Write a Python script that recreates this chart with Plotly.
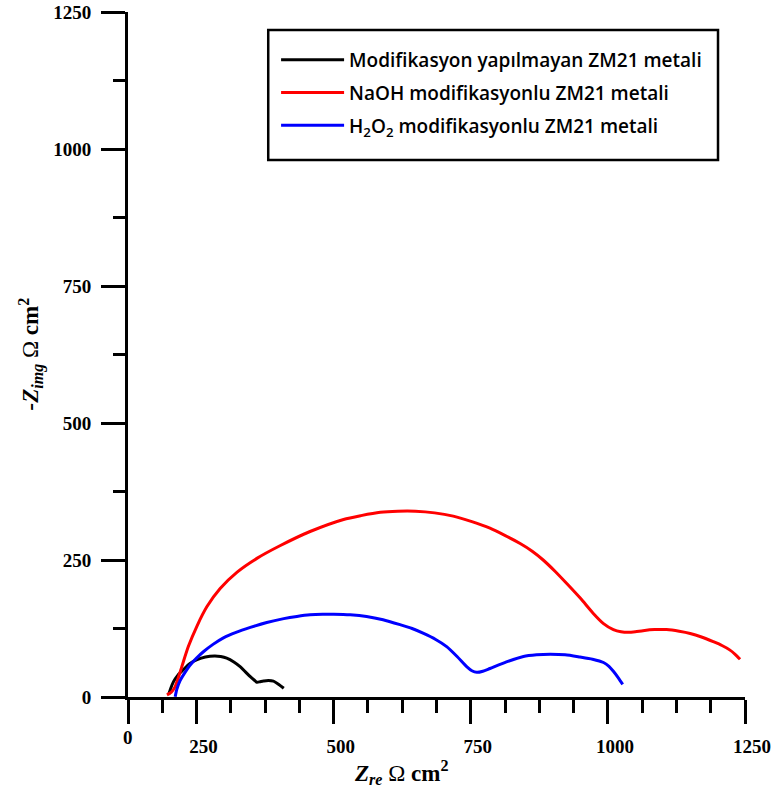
import plotly.graph_objects as go

# Series
black_x = [199, 203, 208, 216, 226, 238, 251, 266, 283, 294, 305, 318, 330, 340, 348, 355, 360, 366, 372, 381, 390, 400, 409]
black_y = [4, 16, 28, 40, 50, 61, 68, 73, 75, 74, 71, 64, 55, 45, 37, 31, 27, 28, 29, 30, 29, 23, 16]

red_x = [196, 204, 211, 217, 223, 235, 251, 269, 293, 324, 360, 402, 457,
         518, 550, 585, 617, 649, 684, 718, 752, 785, 812, 840, 862, 882, 904, 925, 950,
         973, 992, 1010, 1024, 1037, 1050, 1064, 1085, 1107, 1130, 1150, 1172, 1192, 1208, 1222, 1232, 1241]
red_y = [4, 9, 19, 36, 55, 92, 130, 165, 198, 228, 253, 276, 302,
         324, 331, 337, 339, 339, 336, 330, 320, 308, 295, 280, 266, 250, 229, 207, 180,
         153, 134, 123, 119, 118, 119, 121, 123, 123, 120, 116, 109, 101, 94, 86, 78, 69]

blue_x = [211, 214, 220, 229, 238, 250, 263, 280, 299, 322, 348, 378, 409, 433, 457, 480, 500, 530, 560,
          590, 621, 643, 664, 686, 706, 725, 743, 752, 761, 772, 785, 815, 846, 870, 895,
          922, 949, 972, 992, 1002, 1010, 1019, 1027]
blue_y = [0.5, 14, 30, 45, 58, 71, 83, 96, 108, 118, 127, 136, 143, 147, 150, 151, 151, 150, 147,
          141, 132, 125, 116, 105, 92, 74, 55, 48, 45, 47, 52, 64, 74, 77, 78,
          77, 73, 69, 63, 56, 47, 35, 23]

names = ["Modifikasyon yapılmayan ZM21 metali",
         "NaOH modifikasyonlu ZM21 metali",
         "H<sub>2</sub>O<sub>2</sub> modifikasyonlu ZM21 metali"]
colors = ["#000000", "#ff0000", "#0000ff"]

x_major = [125, 250, 500, 750, 1000, 1250]
x_major_text = ["", "250", "500", "750", "1000", "1250"]
x_minor = [187.5, 312.5, 375, 437.5, 562.5, 625, 687.5, 812.5, 875, 937.5, 1062.5, 1125, 1187.5]
y_major = [0, 250, 500, 750, 1000, 1250]
y_minor = [125, 375, 625, 875, 1125]

fig = go.Figure()
for i, (xs, ys) in enumerate([(black_x, black_y), (red_x, red_y), (blue_x, blue_y)]):
    fig.add_trace(go.Scatter(x=xs, y=ys, mode="lines", name=names[i], legendgroup=str(i),
                             line=dict(color=colors[i], width=3, shape="spline", smoothing=0.7)))

serif = "Liberation Serif"
fig.update_layout(
    width=778, height=794,
    margin=dict(l=128, r=33, t=12, b=97, autoexpand=False),
    plot_bgcolor="white", paper_bgcolor="white",
    showlegend=True,
    legend=dict(x=0.240, y=0.9577, xanchor="left", yanchor="top",
                borderwidth=0, bgcolor="rgba(0,0,0,0)",
                font=dict(family="Open Sans", size=19, color="black", weight=600),
                tracegroupgap=5, itemwidth=63),
    xaxis=dict(range=[125, 1250], showgrid=False, zeroline=False, automargin=False,
               showline=True, linecolor="black", linewidth=3,
               tickvals=x_major, ticktext=x_major_text, ticks="outside",
               ticklen=24, tickwidth=3, tickcolor="black",
               ticklabelstandoff=6, ticklabelshift=7,
               tickfont=dict(family=serif, size=19, color="black", weight="bold"),
               minor=dict(tickvals=x_minor, ticks="outside", ticklen=13, tickwidth=3,
                          tickcolor="black", showgrid=False)),
    yaxis=dict(range=[0, 1250], showgrid=False, zeroline=False, automargin=False,
               showline=True, linecolor="black", linewidth=3,
               tickvals=y_major, ticks="outside",
               ticklen=24, tickwidth=3, tickcolor="black",
               ticklabelstandoff=6,
               tickfont=dict(family=serif, size=19, color="black", weight="bold"),
               minor=dict(tickvals=y_minor, ticks="outside", ticklen=12, tickwidth=3,
                          tickcolor="black", showgrid=False)),
)

# legend frame
fig.add_shape(type="rect", xref="paper", yref="paper",
              x0=(268 - 127.7) / 617.3, x1=(718 - 127.7) / 617.3,
              y0=(697 - 160) / 685, y1=(697 - 30) / 685,
              line=dict(color="black", width=2.5), fillcolor="rgba(0,0,0,0)", layer="below")

fig.add_annotation(xref="paper", yref="paper", x=0, y=0, yshift=-40,
                   xanchor="center", yanchor="middle",
                   text="0", showarrow=False,
                   font=dict(family=serif, size=19, color="black", weight="bold"))
fig.add_annotation(xref="paper", yref="paper", x=0.443, y=0, yshift=-75,
                   xanchor="center", yanchor="middle",
                   text="<b><i>Z<sub>re</sub></i></b> Ω <b>cm<sup>2</sup></b>", showarrow=False,
                   font=dict(family=serif, size=23, color="black"))
fig.add_annotation(xref="paper", yref="paper", x=0, xshift=-98, y=0.50,
                   xanchor="center", yanchor="middle",
                   text="<b><i>-Z<sub>img</sub></i></b> Ω <b>cm<sup>2</sup></b>", showarrow=False,
                   textangle=-90,
                   font=dict(family=serif, size=23, color="black"))

fig.write_html("out.html")
